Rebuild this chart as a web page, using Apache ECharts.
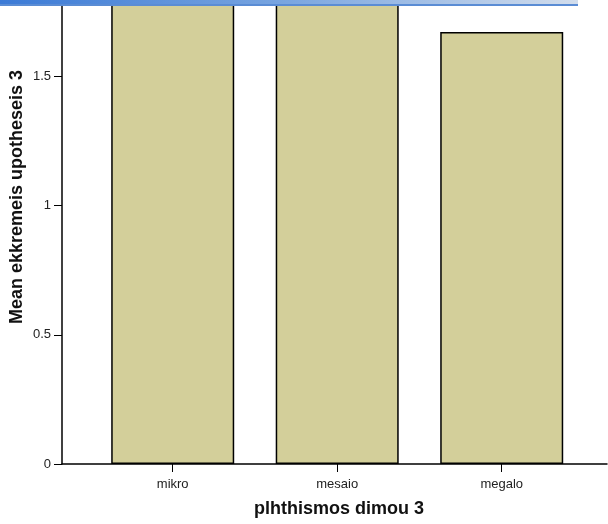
<!DOCTYPE html>
<html>
<head>
<meta charset="utf-8">
<script src="https://cdn.jsdelivr.net/npm/echarts@6/dist/echarts.min.js"></script>
<style>
html,body{margin:0;padding:0;background:#fff;}
#chart{width:608px;height:524px;}
</style>
</head>
<body>
<div id="chart"></div>
<script>
const categories = ['mikro', 'mesaio', 'megalo'];
const meanValues = [1.86, 1.9, 1.672];
const yTickValues = [0, 0.5, 1, 1.5];
const xAxisTitle = 'plhthismos dimou 3';
const yAxisTitle = 'Mean ekkremeis upotheseis 3';

const positions = categories.map((c, i) => i + 1);
const barData = categories.map((c, i) => [positions[i], meanValues[i]]);

const chart = echarts.init(document.getElementById('chart'), null, {renderer: 'canvas'});
const font = '"Liberation Sans", Arial, sans-serif';
chart.setOption({
  animation: false,
  backgroundColor: '#ffffff',
  grid: {left: 62, right: 1, top: 0, bottom: 60, containLabel: false, outerBoundsMode: 'none'},
  xAxis: {
    type: 'value',
    min: 0.327,
    max: 3.64,
    splitLine: {show: false},
    axisLine: {show: true, onZero: false, lineStyle: {color: '#000', width: 1.5}},
    axisTick: {show: true, length: 8, customValues: positions, lineStyle: {color: '#000', width: 1}},
    axisLabel: {
      customValues: positions,
      margin: 14,
      color: '#222',
      fontFamily: font,
      fontSize: 13,
      formatter: v => categories[Math.round(v) - 1] || ''
    },
    name: xAxisTitle,
    nameLocation: 'middle',
    nameGap: 36,
    nameMoveOverlap: false,
    nameTextStyle: {fontFamily: font, fontSize: 18, fontWeight: 'bold', color: '#111', padding: [0, 0, 0, 9]}
  },
  yAxis: {
    type: 'value',
    min: 0,
    max: 1.796,
    interval: 0.5,
    splitLine: {show: false},
    axisLine: {show: true, lineStyle: {color: '#000', width: 1.5}},
    axisTick: {show: true, length: 8, customValues: yTickValues, lineStyle: {color: '#000', width: 1}},
    axisLabel: {
      customValues: yTickValues,
      margin: 11,
      color: '#222',
      fontFamily: font,
      fontSize: 13,
      formatter: v => yTickValues.includes(v) ? String(v) : ''
    },
    name: yAxisTitle,
    nameLocation: 'middle',
    nameGap: 36,
    nameMoveOverlap: false,
    nameTextStyle: {fontFamily: font, fontSize: 18, fontWeight: 'bold', color: '#111', padding: [0, 0, 0, 70]}
  },
  series: [{
    type: 'bar',
    data: barData,
    clip: true,
    barWidth: 123,
    itemStyle: {color: '#d3cf9a', borderColor: '#000', borderWidth: 1.5}
  }],
  graphic: [{
    type: 'rect',
    z: 100,
    shape: {x: 0, y: 0, width: 578, height: 5},
    style: {
      fill: new echarts.graphic.LinearGradient(0, 0, 1, 0, [
        {offset: 0, color: '#3b7ad6'},
        {offset: 0.5, color: '#7aa6e0'},
        {offset: 1, color: '#d2ddec'}
      ])
    }
  }, {
    type: 'rect',
    z: 101,
    shape: {x: 0, y: 4, width: 578, height: 2},
    style: {fill: '#5a8cd4'}
  }]
});
</script>
</body>
</html>
